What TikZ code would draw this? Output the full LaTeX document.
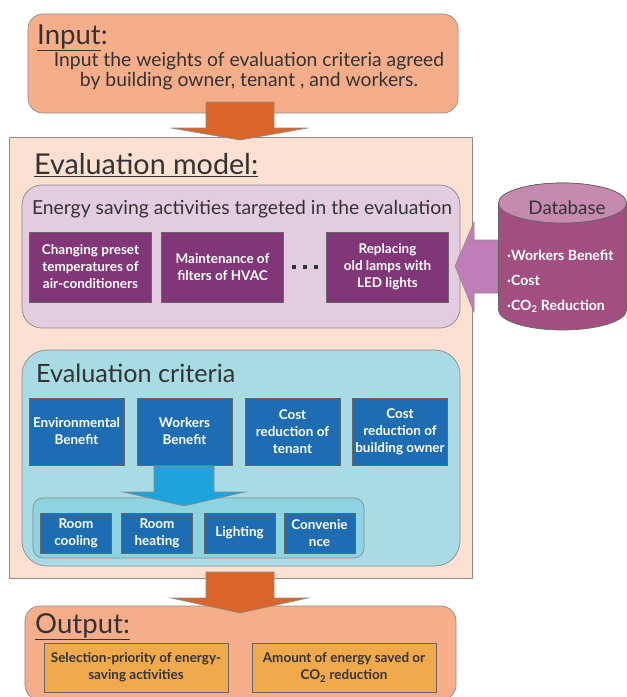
\documentclass[tikz,border=0pt]{standalone}
\usepackage{fontspec}
\setmainfont{Lato}
\usepackage{tikz}
\usetikzlibrary{shapes.geometric,positioning}
\definecolor{evsalmon}{RGB}{245,174,137}
\definecolor{evpeach}{RGB}{252,224,209}
\definecolor{evlilac}{RGB}{227,203,224}
\definecolor{evpurple}{RGB}{128,54,119}
\definecolor{evcyan}{RGB}{169,219,229}
\definecolor{evcyandark}{RGB}{141,211,224}
\definecolor{evblue}{RGB}{30,109,179}
\definecolor{evskyblue}{RGB}{30,163,220}
\definecolor{evorange}{RGB}{217,101,42}
\definecolor{evamber}{RGB}{240,169,75}
\definecolor{dbbody}{RGB}{162,78,128}
\definecolor{dbtop}{RGB}{197,138,174}
\definecolor{dbarrow}{RGB}{193,125,183}
\tikzstyle{panel} = [rectangle, draw=black!45, line width=0.6pt]
\tikzstyle{bigarrow} = [draw=black!45, line width=0.5pt]

\begin{document}
\begin{tikzpicture}[
    x=0.03cm, y=-0.03cm,
    every node/.style={inner sep=0pt, text=black!80},
    heading/.style={anchor=base west, font=\fontsize{23.5}{26}\selectfont},
    plain/.style={align=center, font=\fontsize{16.5}{17.5}\selectfont},
    actbox/.style={rectangle, draw=black!60, fill=evpurple, minimum width=3.66cm, minimum height=2.1cm, align=center, text=white, font=\fontsize{11.5}{14.5}\selectfont\bfseries},
    critbox/.style={rectangle, draw=black!60, fill=evblue, minimum width=2.85cm, minimum height=2.01cm, align=center, text=white, font=\fontsize{11.5}{14.5}\selectfont\bfseries},
    subbox/.style={rectangle, draw=black!60, fill=evblue, minimum width=2.13cm, minimum height=1.2cm, align=center, text=white, font=\fontsize{11.5}{14.5}\selectfont\bfseries},
    outbox/.style={rectangle, draw=black!60, fill=evamber, minimum width=5.52cm, minimum height=1.47cm, align=center, font=\fontsize{11.5}{14.5}\selectfont\bfseries},
    dbitem/.style={anchor=west, text=white, font=\fontsize{12}{14}\selectfont\bfseries}
]
\useasboundingbox (0,0) rectangle (627,697);

% Input (top)
\node[panel, rounded corners=0.45cm, fill=evsalmon, minimum width=12.9cm, minimum height=2.97cm] (input) at (243,63.5) {};
\node[heading] (inputtitle) at (37,44) {\underline{Input}:};
\node[plain] (inputtext) at (249,71) {Input the weights of evaluation criteria agreed\\by building owner, tenant , and workers.};

% Evaluation model (middle)
\node[panel, fill=evpeach, minimum width=13.89cm, minimum height=13.23cm] (model) at (240.5,357.5) {};
\node[heading, font=\fontsize{24.5}{27}\selectfont] (modeltitle) at (34,174) {\underline{Evaluation model:}};

\fill[evorange, bigarrow] (206,102) -- (274,102) -- (274,128) -- (308,128) -- (240,140) -- (171,128) -- (206,128) -- cycle;

% Activities
\node[panel, rounded corners=0.6cm, fill=evlilac, minimum width=13.14cm, minimum height=4.29cm] (activities) at (241,256.5) {};
\node[plain] (acttitle) at (242,209) {Energy saving activities targeted in the evaluation};
\node[actbox] (preset) at (90.5,267) {Changing preset\\temperatures of\\air-conditioners};
\node[actbox] (filters) at (222.5,267) {Maintenance of\\filters of HVAC};
\node[actbox] (lamps) at (387.5,267) {Replacing\\old lamps with\\LED lights};
\node (dots) at (305,267) {\rule{3.5pt}{3.5pt}\hspace{6pt}\rule{3.5pt}{3.5pt}\hspace{6pt}\rule{3.5pt}{3.5pt}};

% Database (right)
\fill[dbarrow, bigarrow] (498,240) -- (474,240) -- (474,222) -- (455,266) -- (474,312) -- (474,293) -- (498,293) -- cycle;
\coordinate (db) at (562.5,256.5);
\filldraw[fill=dbbody, draw=black!60, line width=0.6pt] (498.5,203) -- (498.5,310) arc[start angle=180, end angle=360, x radius=1.92cm, y radius=0.6cm] -- (626.5,203) arc[start angle=0, end angle=180, x radius=1.92cm, y radius=0.6cm] -- cycle;
\filldraw[fill=dbtop, draw=black!60, line width=0.6pt] (562.5,203) ellipse[x radius=1.92cm, y radius=0.6cm];
\node[font=\fontsize{16}{18}\selectfont] (dbtitle) at (567,208) {Database};
\node[dbitem] (dbworkers) at (507,255) {·Workers Benefit};
\node[dbitem] (dbcost) at (507,280) {·Cost};
\node[dbitem] (dbco) at (507,306) {·CO\textsubscript{2} Reduction};

% Evaluation criteria
\node[panel, rounded corners=0.75cm, fill=evcyan, minimum width=13.14cm, minimum height=6.48cm] (criteria) at (241,458) {};
\node[heading, font=\fontsize{21.5}{24}\selectfont] (crittitle) at (36,382) {Evaluation criteria};
\node[critbox] (env) at (76.5,431.5) {Environmental\\Benefit};
\node[critbox] (workers) at (184.5,431.5) {Workers\\Benefit};
\node[critbox] (tenant) at (292.5,431.5) {Cost\\reduction of\\tenant};
\node[critbox] (owner) at (400,431.5) {Cost\\reduction of\\building owner};

\node[panel, rounded corners=0.3cm, fill=evcyandark, minimum width=9.93cm, minimum height=1.8cm] (comfort) at (198.5,528) {};
\fill[evskyblue, bigarrow] (154,466) -- (214,466) -- (214,492) -- (245,492) -- (184,506) -- (123,492) -- (154,492) -- cycle;
\node[subbox] (cooling) at (76,533) {Room\\cooling};
\node[subbox] (heating) at (157,533) {Room\\heating};
\node[subbox] (lighting) at (239.5,533) {Lighting};
\node[subbox] (convenience) at (319.5,533) {Convenie\\nce};

% Output (bottom)
\node[panel, rounded corners=0.45cm, fill=evsalmon, minimum width=12.93cm, minimum height=2.82cm] (output) at (240.5,653) {};
\fill[evorange, bigarrow] (206,572) -- (274,572) -- (274,598) -- (308,598) -- (240,613) -- (171,598) -- (206,598) -- cycle;
\node[heading] (outputtitle) at (35,633) {\underline{Output:}};
\node[outbox] (priority) at (136,667.5) {Selection-priority of energy-\\saving activities};
\node[outbox] (amount) at (344,667.5) {Amount of energy saved or\\CO\textsubscript{2} reduction};

\end{tikzpicture}
\end{document}
